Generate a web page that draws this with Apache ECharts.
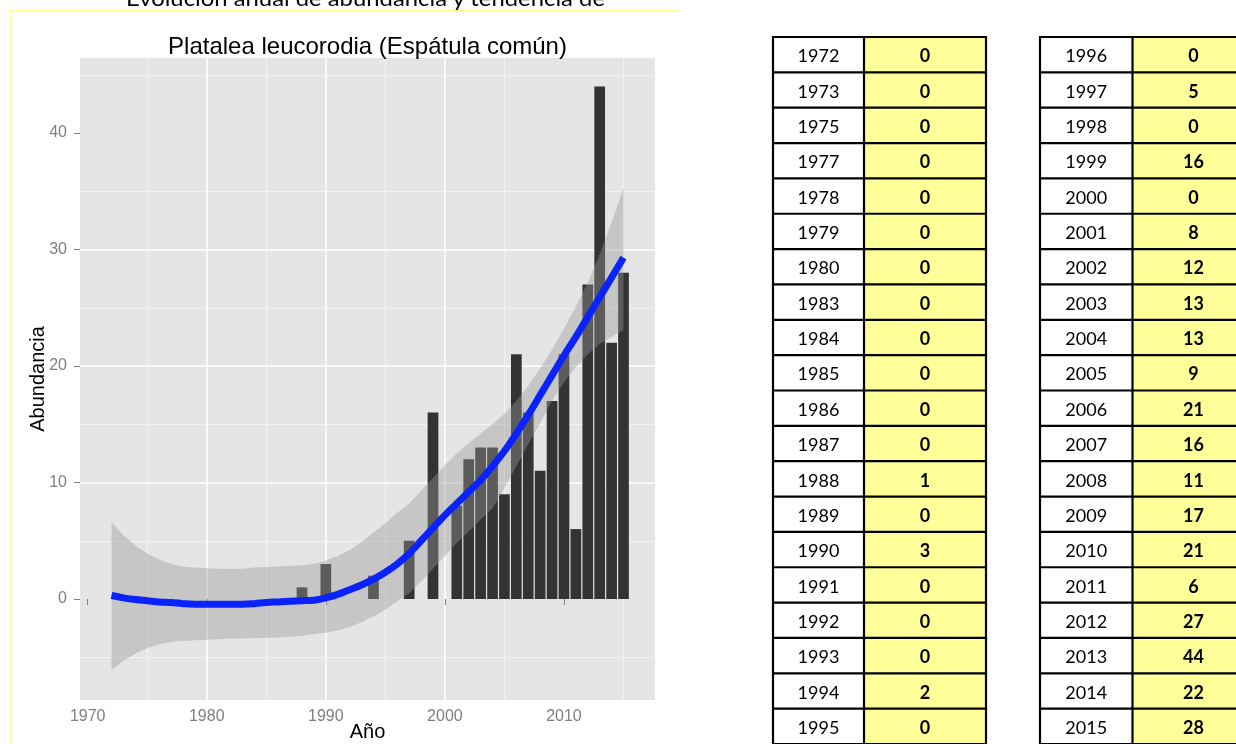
<!DOCTYPE html>
<html>
<head>
<meta charset="utf-8">
<script src="https://cdn.jsdelivr.net/npm/echarts@6/dist/echarts.min.js"></script>
<style>
html,body{margin:0;padding:0;background:#fff;}
#wrap{position:relative;width:1236px;height:744px;overflow:hidden;background:#fff;}
#chart{position:absolute;left:0;top:0;width:1236px;height:744px;}
#overlay{position:absolute;left:0;top:0;width:1236px;height:744px;pointer-events:none;}
</style>
</head>
<body>
<div id="wrap">
  <div id="chart"></div>
  <svg id="overlay" xmlns="http://www.w3.org/2000/svg" width="1236" height="744"></svg>
</div>
<script>
// ---------------- data ----------------
const pageTitle = 'Evolución anual de abundancia y tendencia de';
const chartTitle = 'Platalea leucorodia (Espátula común)';
const xAxisTitle = 'Año';
const yAxisTitle = 'Abundancia';

const tableYearsLeft  = [1972,1973,1975,1977,1978,1979,1980,1983,1984,1985,1986,1987,1988,1989,1990,1991,1992,1993,1994,1995];
const tableValuesLeft = [0,0,0,0,0,0,0,0,0,0,0,0,1,0,3,0,0,0,2,0];
const tableYearsRight  = [1996,1997,1998,1999,2000,2001,2002,2003,2004,2005,2006,2007,2008,2009,2010,2011,2012,2013,2014,2015];
const tableValuesRight = [0,5,0,16,0,8,12,13,13,9,21,16,11,17,21,6,27,44,22,28];

const trendYears = [1972,1973,1974,1975,1976,1977,1978,1979,1980,1981,1982,1983,1984,1985,1986,1987,1988,1989,1990,1991,1992,1993,1994,1995,1996,1997,1998,1999,2000,2001,2002,2003,2004,2005,2006,2007,2008,2009,2010,2011,2012,2013,2014,2015];
const trendFit   = [0.3,0.1,-0.05,-0.15,-0.25,-0.3,-0.4,-0.45,-0.45,-0.45,-0.45,-0.45,-0.4,-0.3,-0.25,-0.2,-0.15,-0.1,0.1,0.4,0.8,1.2,1.7,2.3,3.0,3.9,5.0,6.1,7.2,8.2,9.2,10.2,11.4,12.7,14.2,15.8,17.5,19.2,20.9,22.5,24.2,25.9,27.6,29.3];
const trendUpper = [6.6,5.5,4.6,3.9,3.4,3.0,2.8,2.7,2.65,2.6,2.6,2.6,2.7,2.75,2.8,2.85,2.9,3.0,3.3,3.7,4.2,4.9,5.7,6.5,7.4,8.2,9.3,10.4,11.5,12.5,13.4,14.2,15.0,15.9,17.0,18.3,19.8,21.4,23.2,25.1,27.2,29.6,32.3,35.3];
const trendLower = [-6.1,-5.3,-4.7,-4.2,-3.9,-3.7,-3.6,-3.55,-3.5,-3.45,-3.4,-3.4,-3.35,-3.35,-3.3,-3.25,-3.15,-3.0,-2.9,-2.7,-2.4,-2.0,-1.5,-0.9,-0.2,0.5,1.5,2.6,3.7,4.8,5.8,6.8,7.8,9.5,11.4,13.3,15.1,17.0,18.6,19.9,21.0,21.9,22.5,23.1];

const xTickLabels = [1970,1980,1990,2000,2010];
const yTickLabels = [0,10,20,30,40];

// ---------------- chart ----------------
const X_MIN = 1969.355, X_MAX = 2017.645;
const Y_MIN = -8.67, Y_MAX = 46.44;
const GRID = {left: 80, top: 58, width: 575, height: 642};
const barWidthPx = 0.9 * GRID.width / (X_MAX - X_MIN);

const barYears = tableYearsLeft.concat(tableYearsRight);
const barValues = tableValuesLeft.concat(tableValuesRight);
const barData = barYears.map((y, i) => [y, barValues[i]]);
const fitData = trendYears.map((y, i) => [y, trendFit[i]]);

const chart = echarts.init(document.getElementById('chart'), null, {renderer: 'canvas'});
const axisFont = 'Liberation Sans, Arial, sans-serif';

const option = {
  animation: false,
  backgroundColor: 'transparent',
  graphic: [
    {type: 'text', x: GRID.left + GRID.width / 2, y: 47, z: 10,
     style: {text: chartTitle, fill: '#000', font: '24px "Liberation Sans", Arial, sans-serif',
             textAlign: 'center', textVerticalAlign: 'middle', verticalAlign: 'middle'}}
  ],
  grid: {left: GRID.left, top: GRID.top, width: GRID.width, height: GRID.height,
         show: true, backgroundColor: '#e5e5e5', borderWidth: 0, containLabel: false,
         outerBoundsMode: 'none'},
  xAxis: {
    type: 'value', min: X_MIN, max: X_MAX, splitNumber: 5,
    name: xAxisTitle, nameLocation: 'middle', nameGap: 22, nameMoveOverlap: false,
    nameTextStyle: {color: '#000', fontSize: 20, fontFamily: axisFont},
    axisLine: {show: false},
    axisTick: {show: true, length: 6, customValues: xTickLabels, lineStyle: {color: '#7f7f7f', width: 1}},
    axisLabel: {show: true, customValues: xTickLabels, margin: 9, color: '#7f7f7f', fontSize: 16, fontFamily: axisFont,
                formatter: v => String(Math.round(v))},
    splitLine: {show: true, showMinLine: false, showMaxLine: false, lineStyle: {color: '#ffffff', width: 1.5}},
    minorTick: {show: false, splitNumber: 2},
    minorSplitLine: {show: true, lineStyle: {color: '#f2f2f2', width: 1}}
  },
  yAxis: {
    type: 'value', min: Y_MIN, max: Y_MAX, splitNumber: 5,
    name: yAxisTitle, nameLocation: 'middle', nameGap: 32, nameMoveOverlap: false,
    nameTextStyle: {color: '#000', fontSize: 20, fontFamily: axisFont},
    axisLine: {show: false},
    axisTick: {show: true, length: 6, customValues: yTickLabels, lineStyle: {color: '#7f7f7f', width: 1}},
    axisLabel: {show: true, customValues: yTickLabels, margin: 13, color: '#7f7f7f', fontSize: 16, fontFamily: axisFont,
                formatter: v => String(Math.round(v))},
    splitLine: {show: true, showMinLine: false, showMaxLine: false, lineStyle: {color: '#ffffff', width: 1.5}},
    minorTick: {show: false, splitNumber: 2},
    minorSplitLine: {show: true, lineStyle: {color: '#f2f2f2', width: 1}}
  },
  series: [
    {
      type: 'bar', name: 'abundancia', data: barData, barWidth: barWidthPx, z: 2,
      itemStyle: {color: '#333333'}, silent: true
    },
    {
      type: 'custom', name: 'ic', data: [0], z: 3, silent: true,
      renderItem: function (params, api) {
        const pts = [];
        for (let i = 0; i < trendYears.length; i++) pts.push(api.coord([trendYears[i], trendUpper[i]]));
        for (let i = trendYears.length - 1; i >= 0; i--) pts.push(api.coord([trendYears[i], trendLower[i]]));
        return {type: 'polygon', shape: {points: pts}, style: {fill: 'rgba(153,153,153,0.4)'}};
      }
    },
    {
      type: 'line', name: 'tendencia', data: fitData, z: 4, smooth: 0.4, showSymbol: false, silent: true,
      lineStyle: {color: '#0a22ff', width: 7, cap: 'butt'}
    }
  ]
};
chart.setOption(option);

// ---------------- overlay: frame, page title, tables ----------------
const NS = 'http://www.w3.org/2000/svg';
const svg = document.getElementById('overlay');
function el(tag, attrs, text) {
  const e = document.createElementNS(NS, tag);
  for (const k in attrs) e.setAttribute(k, attrs[k]);
  if (text !== undefined) e.textContent = text;
  svg.appendChild(e);
  return e;
}
// thin yellow frame
el('line', {x1: 10, y1: 10.5, x2: 678, y2: 10.5, stroke: '#ffff88', 'stroke-width': 1});
el('line', {x1: 10.5, y1: 10, x2: 10.5, y2: 744, stroke: '#ffff99', 'stroke-width': 1});
// cut-off page title
el('text', {x: 365.5, y: 6, 'text-anchor': 'middle', 'font-family': 'Lato, "Open Sans", sans-serif',
            'font-size': 22, fill: '#000', textLength: 479, lengthAdjust: 'spacingAndGlyphs'}, pageTitle);

function drawTable(x0, w1, w2, years, vals) {
  const top = 37, rowH = 35.35, n = years.length;
  for (let i = 0; i < n; i++) {
    const y = top + i * rowH;
    el('rect', {x: x0, y: y, width: w1, height: rowH, fill: '#ffffff'});
    el('rect', {x: x0 + w1, y: y, width: w2, height: rowH, fill: '#ffff99'});
    el('text', {x: x0 + w1 / 2, y: y + 25.3, 'text-anchor': 'middle', 'font-family': 'Lato, sans-serif',
                'font-size': 18, fill: '#000'}, String(years[i]));
    el('text', {x: x0 + w1 + w2 / 2, y: y + 25.3, 'text-anchor': 'middle', 'font-family': 'Lato, sans-serif',
                'font-size': 18, 'font-weight': 'bold', fill: '#000'}, String(vals[i]));
  }
  for (let i = 0; i <= n; i++) {
    const y = top + i * rowH;
    el('line', {x1: x0 - 1, y1: y, x2: x0 + w1 + w2 + 1, y2: y, stroke: '#000', 'stroke-width': 2.2});
  }
  [x0, x0 + w1, x0 + w1 + w2].forEach(x => {
    el('line', {x1: x, y1: top - 1, x2: x, y2: top + n * rowH + 1, stroke: '#000', 'stroke-width': 2.2});
  });
}
drawTable(773, 91, 122, tableYearsLeft, tableValuesLeft);
drawTable(1040, 92.5, 122, tableYearsRight, tableValuesRight);
</script>
</body>
</html>
